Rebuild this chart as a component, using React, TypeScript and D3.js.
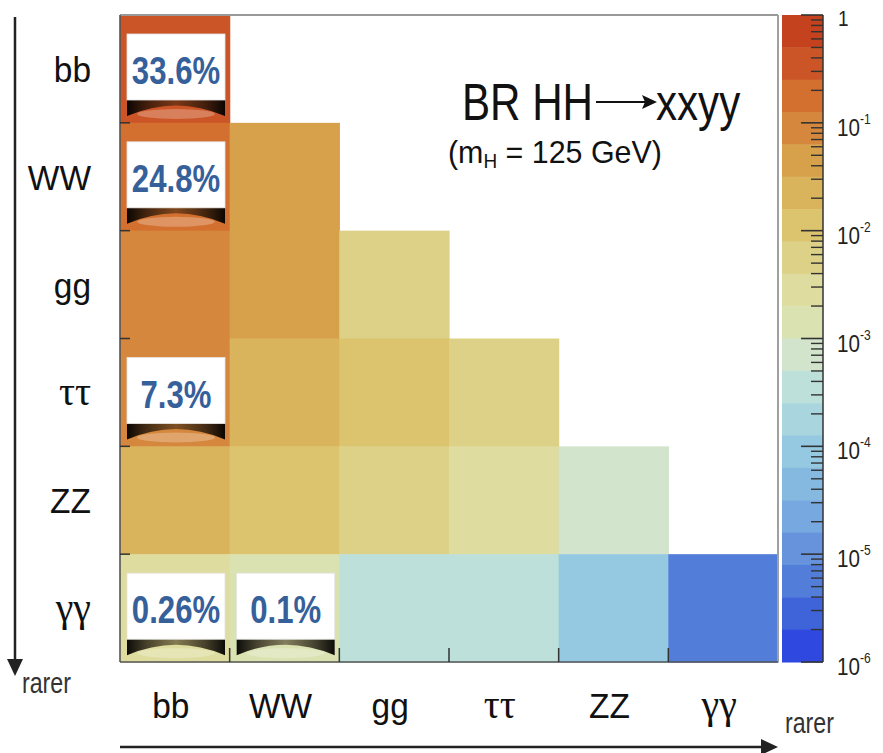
import React from 'react';
import * as d3 from 'd3';

// decay channels (rows: first Higgs, columns: second Higgs), ordered commonest -> rarest
const channels = ['bb', 'WW', 'gg', 'ττ', 'ZZ', 'γγ'];
const serifChannels = ['ττ', 'γγ'];

// BR(HH -> xx yy) (row = y channel, col = x channel)
const brBB = [0.336];
const brWW = [0.248, 0.046];
const brGG = [0.095, 0.035, 0.0067];
const brTT = [0.073, 0.027, 0.0103, 0.004];
const brZZ = [0.03, 0.011, 0.0043, 0.0033, 0.00068];
const brAA = [0.0026, 0.001, 0.00037, 0.00029, 0.00012, 0.0000052];
const brRows = [brBB, brWW, brGG, brTT, brZZ, brAA];

// labelled cells
const annotRows = ['bb', 'WW', 'ττ', 'γγ', 'γγ'];
const annotCols = ['bb', 'bb', 'bb', 'bb', 'WW'];
const annotTexts = ['33.6%', '24.8%', '7.3%', '0.26%', '0.1%'];

// colour bar
const colorbarExponents = [0, -1, -2, -3, -4, -5, -6];
const minorMultipliers = [2, 3, 4, 5, 6, 7, 8, 9];
const palette = [
  '#c4421d', '#cb5526', '#d3702f', '#d5873d', '#d7a14c',
  '#dab45c', '#dcc46e', '#ddd188', '#dedc9e', '#dae2b2',
  '#d2e4cc', '#bde0da', '#a9d6de', '#95c8e1', '#86b9e0',
  '#77a8df', '#6693dc', '#527dd8', '#3f64da', '#2f48e0',
];

const SANS = "'Liberation Sans', Arial, Helvetica, sans-serif";
const SERIF = "'Liberation Serif', 'Times New Roman', serif";

const W = 883;
const H = 753;
const L = 120, R = 778, T = 15, B = 662;
const CB_L = 782, CB_R = 823;

function SText(props: any) {
  const { x, y, size, sx = 1, anchor = 'start', fill = '#111', weight = 'normal', family = SANS, children } = props;
  return (
    <text
      transform={`translate(${x},${y}) scale(${sx},1)`}
      fontSize={size}
      textAnchor={anchor}
      fill={fill}
      fontWeight={weight}
      fontFamily={family}
    >
      {children}
    </text>
  );
}

export default function App() {
  const x = d3.scaleBand<string>().domain(channels).range([L, R]);
  const y = d3.scaleBand<string>().domain(channels).range([T, B]);
  const cz = d3.scaleLog().domain([1e-6, 1]).range([B, T]);
  const color = d3.scaleQuantize<string>().domain([-6, 0]).range(palette.slice().reverse());

  const bw = x.bandwidth();
  const bh = y.bandwidth();

  const cells: any[] = [];
  brRows.forEach((row, r) => {
    row.forEach((v, c) => {
      cells.push(
        <rect
          key={`c${r}-${c}`}
          x={x(channels[c])!}
          y={y(channels[r])!}
          width={bw + 0.6}
          height={bh + 0.6}
          fill={color(Math.log10(v))}
        />
      );
    });
  });

  const bands = palette.map((col, i) => {
    const [lo, hi] = color.invertExtent(col) as [number, number];
    const y0 = cz(Math.pow(10, hi));
    const y1 = cz(Math.pow(10, lo));
    return <rect key={`b${i}`} x={CB_L} y={y0} width={CB_R - CB_L} height={y1 - y0 + 0.5} fill={col} />;
  });

  const cbTicks: any[] = [];
  colorbarExponents.forEach((e) => {
    const yy = cz(Math.pow(10, e));
    cbTicks.push(<line key={`M${e}`} x1={CB_R - 22} x2={CB_R} y1={yy} y2={yy} stroke="#333" strokeWidth={1.6} />);
    if (e < 0) {
      minorMultipliers.forEach((m) => {
        const ym = cz(m * Math.pow(10, e));
        cbTicks.push(<line key={`m${e}-${m}`} x1={CB_R - 12} x2={CB_R} y1={ym} y2={ym} stroke="#333" strokeWidth={1.4} />);
      });
    }
  });

  const cbLabels = colorbarExponents.map((e) => {
    const yy = cz(Math.pow(10, e));
    if (e === 0) {
      return (
        <SText key={`l${e}`} x={838} y={yy + 11} size={22} sx={0.86} fill="#222">1</SText>
      );
    }
    return (
      <text key={`l${e}`} transform={`translate(837,${yy + 13}) scale(0.86,1)`} fontFamily={SANS} fill="#222">
        <tspan fontSize={24}>10</tspan>
        <tspan fontSize={14} dy={-12}>{`-${-e}`}</tspan>
      </text>
    );
  });

  const boxes = annotTexts.map((t, i) => {
    const bx = x(annotCols[i])! + 7;
    const by = y(annotRows[i])! + 19;
    const w = 98;
    const h = 66;
    const sb = by + h;
    return (
      <g key={`a${i}`}>
        <ellipse cx={bx + w / 2} cy={sb + 14} rx={w / 2 - 10} ry={5} fill="#ffffff" opacity={0.25} />
        <path
          d={`M${bx},${sb} L${bx + w},${sb} L${bx + w},${sb + 16} Q${bx + w / 2},${sb - 5} ${bx},${sb + 16} Z`}
          fill="url(#curlShadow)"
        />
        <rect x={bx} y={by} width={w} height={h} fill="#ffffff" stroke="#e4e4e4" strokeWidth={0.8} />
        <SText x={bx + w / 2} y={by + 50} size={38} sx={0.82} anchor="middle" fill="#36609a" weight="bold">
          {t}
        </SText>
      </g>
    );
  });

  const isSerif = (c: string) => serifChannels.includes(c);

  const yLabels = channels.map((c) => (
    <SText
      key={`y${c}`}
      x={91}
      y={y(c)! + bh / 2 + 13}
      size={isSerif(c) ? 42 : 36}
      sx={isSerif(c) ? 0.95 : 0.93}
      anchor="end"
      family={isSerif(c) ? SERIF : SANS}
    >
      {c}
    </SText>
  ));

  const xLabels = channels.map((c) => (
    <SText
      key={`x${c}`}
      x={x(c)! + bw / 2 - 4}
      y={718}
      size={isSerif(c) ? 42 : 36}
      sx={isSerif(c) ? 0.95 : 0.93}
      anchor="middle"
      family={isSerif(c) ? SERIF : SANS}
    >
      {c}
    </SText>
  ));

  const leftTicks = channels.slice(1).map((c) => {
    const yy = y(c)!;
    return <line key={`lt${c}`} x1={L} x2={L + 10} y1={yy} y2={yy} stroke="#333" strokeWidth={1.5} />;
  });
  const bottomTicks = channels.slice(1).map((c) => {
    const xx = x(c)!;
    return <line key={`bt${c}`} x1={xx} x2={xx} y1={B} y2={B - 14} stroke="#333" strokeWidth={1.5} />;
  });

  return (
    <svg
      width={W}
      height={H}
      viewBox={`0 0 ${W} ${H}`}
      style={{ position: 'absolute', left: 0, top: 0, background: '#fff' }}
    >
      <defs>
        <linearGradient id="curlShadow" x1="0" x2="1" y1="0" y2="0">
          <stop offset="0" stopColor="#000" stopOpacity={0.95} />
          <stop offset="0.2" stopColor="#140c04" stopOpacity={0.75} />
          <stop offset="0.5" stopColor="#2a1a08" stopOpacity={0.5} />
          <stop offset="0.8" stopColor="#140c04" stopOpacity={0.75} />
          <stop offset="1" stopColor="#000" stopOpacity={0.95} />
        </linearGradient>
      </defs>
      <rect x={0} y={0} width={W} height={H} fill="#fff" />

      <rect x={L} y={T} width={R - L} height={B - T} fill="#fff" />
      {cells}

      {/* frame */}
      <line x1={L} x2={R} y1={T} y2={T} stroke="#999" strokeWidth={2} />
      <line x1={R} x2={R} y1={T} y2={B} stroke="#a0a0a0" strokeWidth={2} />
      <line x1={L} x2={L} y1={T} y2={B} stroke="#555" strokeWidth={1.6} />
      <line x1={L} x2={R} y1={B} y2={B} stroke="#555" strokeWidth={1.6} />
      {leftTicks}
      {bottomTicks}

      {boxes}

      {/* colour bar */}
      {bands}
      <line x1={CB_R} x2={CB_R} y1={T} y2={B} stroke="#333" strokeWidth={1.5} />
      {cbTicks}
      {cbLabels}

      {/* title */}
      <SText x={462} y={120} size={52} sx={0.81} fill="#111">BR HH</SText>
      <line x1={596} x2={648} y1={102} y2={102} stroke="#111" strokeWidth={2.2} />
      <path d="M657,102 L642,95 L645,102 L642,109 Z" fill="#111" />
      <SText x={656} y={120} size={52} sx={0.81} fill="#111">xxyy</SText>
      <text transform="translate(448,163) scale(0.95,1)" fontFamily={SANS} fill="#111">
        <tspan fontSize={32}>(m</tspan>
        <tspan fontSize={20} dy={5}>H</tspan>
        <tspan fontSize={32} dy={-5}> = 125 GeV)</tspan>
      </text>

      {yLabels}
      {xLabels}

      {/* "rarer" arrows */}
      <line x1={15} x2={15} y1={17} y2={662} stroke="#222" strokeWidth={2.5} />
      <path d="M15,676 L7,659 L23,659 Z" fill="#222" />
      <SText x={22} y={693} size={29} sx={0.8} fill="#333">rarer</SText>

      <line x1={120} x2={764} y1={747} y2={747} stroke="#222" strokeWidth={2.5} />
      <path d="M778,747 L761,739 L761,755 Z" fill="#222" />
      <SText x={785} y={733} size={29} sx={0.8} fill="#333">rarer</SText>
    </svg>
  );
}
